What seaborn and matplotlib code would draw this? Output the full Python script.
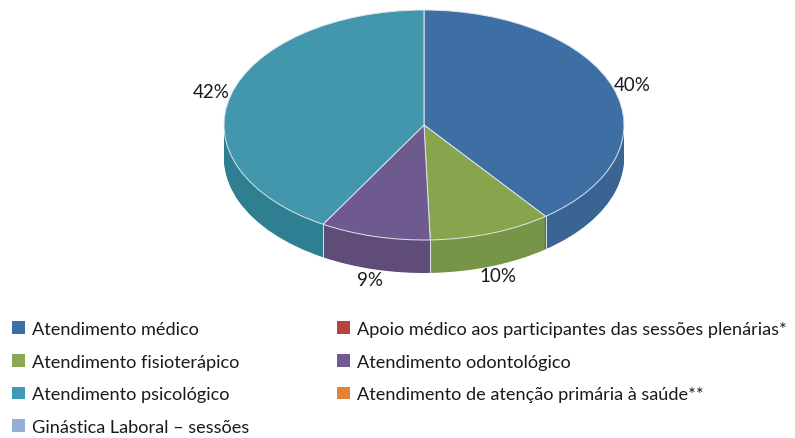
import numpy as np
import pandas as pd
import seaborn as sns
import matplotlib.pyplot as plt
from matplotlib.patches import Patch
from matplotlib.transforms import Affine2D

# dados
categorias = ['Atendimento médico',
              'Apoio médico aos participantes das sessões plenárias*',
              'Atendimento fisioterápico',
              'Atendimento odontológico',
              'Atendimento psicológico',
              'Atendimento de atenção primária à saúde**',
              'Ginástica Laboral – sessões']
valores = [40, 0, 10, 9, 42, 0, 0]
cores_legenda = ['#3C6EA8', '#B7433F', '#8BA854', '#705A96', '#3F9BB4', '#E5823A', '#94AED4']
cores_topo = ['#3D6FA5', '#B7433F', '#86A54C', '#6E5A8E', '#4297AD', '#E5823A', '#94AED4']
cores_lado = ['#3A6494', '#9E3A36', '#779546', '#604C78', '#2E7F92', '#C8702F', '#7E97BA']

df = pd.DataFrame({'cat': categorias, 'val': valores, 'topo': cores_topo, 'lado': cores_lado})
dfp = df[df.val > 0]

sns.set_style('white')
plt.rcParams['font.family'] = ['Lato', 'DejaVu Sans']

W, H = 795, 439
fig = plt.figure(figsize=(W / 100, H / 100), dpi=100)
ax = fig.add_axes([0, 0, 1, 1])

cx, cy = 424, H - 126   # centro da elipse (px)
a, b = 200, 115         # semi-eixos
prof = 33               # altura da parede lateral


def tr(dy):
    return Affine2D().scale(a, b).translate(cx, cy - dy) + ax.transData


# parede lateral: pilha de pizzas mais escuras
for dy in range(prof, 0, -1):
    wedges, _ = ax.pie(dfp.val, colors=dfp.lado, startangle=90, counterclock=False,
                       wedgeprops=dict(linewidth=0, antialiased=True))
    for w in wedges:
        w.set_transform(tr(dy))

# face de cima
wedges, _ = ax.pie(dfp.val, colors=dfp.topo, startangle=90, counterclock=False,
                   wedgeprops=dict(linewidth=0.7, edgecolor='#dfe6ee'))
for w in wedges:
    w.set_transform(tr(0))

# linhas divisórias na parede
fr = dfp.val.values / dfp.val.sum()
bordas = 90 - np.cumsum(np.r_[0, fr]) * 360
for ang in bordas:
    t = np.deg2rad(ang)
    if np.sin(t) < -0.05:
        x, y = cx + a * np.cos(t), cy + b * np.sin(t)
        ax.plot([x, x], [y, y - prof], color='#dfe6ee', lw=0.7)

# rótulos de percentagem
meio = 90 - (np.cumsum(fr) - fr / 2) * 360
for ang, p in zip(meio, fr):
    t = np.deg2rad(ang)
    x = cx + a * 1.1 * np.cos(t)
    y = cy + b * 1.1 * np.sin(t) + prof * min(0, np.sin(t))
    ax.text(x, y, f'{p * 100:.0f}%', ha='center', va='center', fontsize=13.5, color='#1a1a1a')

ax.set_xlim(0, W)
ax.set_ylim(0, H)
ax.set_aspect('auto')
ax.axis('off')

# legenda em duas colunas
h = [Patch(facecolor=c, edgecolor='none', label=l) for l, c in zip(categorias, cores_legenda)]
kw = dict(loc='upper left', frameon=False, fontsize=13.1, handlelength=0.7, handleheight=0.7,
          handletextpad=0.4, labelspacing=0.92, borderpad=0, borderaxespad=0,
          labelcolor='#1a1a1a')
leg1 = ax.legend(handles=[h[i] for i in [0, 2, 4, 6]], bbox_to_anchor=(12 / W, (H - 322) / H), **kw)
ax.add_artist(leg1)
ax.legend(handles=[h[i] for i in [1, 3, 5]], bbox_to_anchor=(337 / W, (H - 322) / H), **kw)

plt.savefig('out.png', dpi=100)
